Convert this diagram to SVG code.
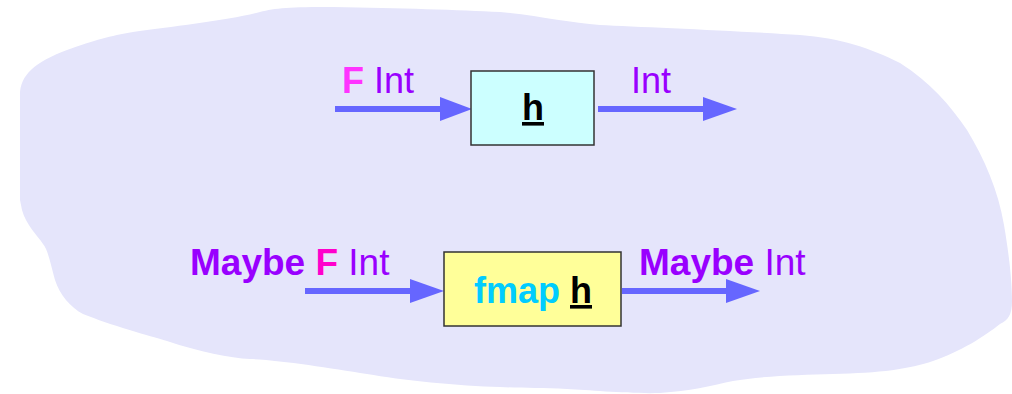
<svg xmlns="http://www.w3.org/2000/svg" width="1012" height="394" viewBox="0 0 1012 394">
<style>
text{font-family:"Liberation Sans",Arial,sans-serif;font-size:36px}
.lg{font-size:37px}
.b{font-weight:bold}
.pu{fill:#9900ff}
.mg{fill:#ff33ff}
.mg2{fill:#ff00cc}
.cy{fill:#00ccff}
.blk{fill:#000;font-weight:bold;text-decoration:underline}
.conn{stroke:#6666ff;stroke-width:6;fill:none}
.head{fill:#6666ff}
</style>
<rect width="1012" height="394" fill="#ffffff"/>
<path d="M20,200 L20,95 C20,75 35,62 67,50 C95,40 110,36 133,32 C170,27 230,20 260,12 C275,8 290,7 333,7 C400,8 460,10 500,12 C540,16 570,23 600,25 C640,27 740,31 800,35 C840,38 870,48 900,63 C930,82 950,105 967,130 C985,160 998,190 1004,225 C1010,260 1012,285 1012,301 C1012,315 1008,320 1000,324 C985,336 960,352 933,361 C910,369 880,373 833,374 C800,375 760,376 733,381 C710,386 690,391 660,393 C630,394 590,390 567,389 C540,388 520,388 500,387 C460,386 400,380 367,374 C330,368 280,360 250,359 C230,358 200,352 167,341 C150,336 110,325 83,314 C70,307 60,295 55,280 C50,262 48,250 43,244 C38,236 26,225 22,210 Z" fill="#e5e5fb"/>
<g id="connectors">
<line class="conn" x1="335" y1="109" x2="445" y2="109"/>
<polygon class="head" points="440,97 472,109 440,121"/>
<line class="conn" x1="598" y1="109" x2="708" y2="109"/>
<polygon class="head" points="703,97 737,109 703,121"/>
<line class="conn" x1="305" y1="291" x2="415" y2="291"/>
<polygon class="head" points="410,279 444,291 410,303"/>
<line class="conn" x1="622" y1="291" x2="731" y2="291"/>
<polygon class="head" points="726,279 760,291 726,303"/>
</g>
<g id="label-top-left"><text x="342" y="93"><tspan class="b mg">F</tspan><tspan class="pu"> Int</tspan></text></g>
<g id="label-top-right"><text x="631" y="93" class="pu">Int</text></g>
<g id="node-h">
<rect x="471" y="71" width="123" height="74" fill="#ccffff" stroke="#333" stroke-width="1.5"/>
<text x="533" y="120" text-anchor="middle" class="blk">h</text>
</g>
<g id="label-bottom-left"><text x="190" y="275" class="lg"><tspan class="b pu">Maybe </tspan><tspan class="b mg2">F</tspan><tspan class="pu"> Int</tspan></text></g>
<g id="label-bottom-right"><text x="639" y="275" class="lg"><tspan class="b pu">Maybe</tspan><tspan class="pu"> Int</tspan></text></g>
<g id="node-fmap">
<rect x="444" y="252" width="177" height="74" fill="#ffff99" stroke="#333" stroke-width="1.5"/>
<text x="533" y="303" text-anchor="middle"><tspan class="b cy">fmap </tspan><tspan class="blk">h</tspan></text>
</g>
</svg>
